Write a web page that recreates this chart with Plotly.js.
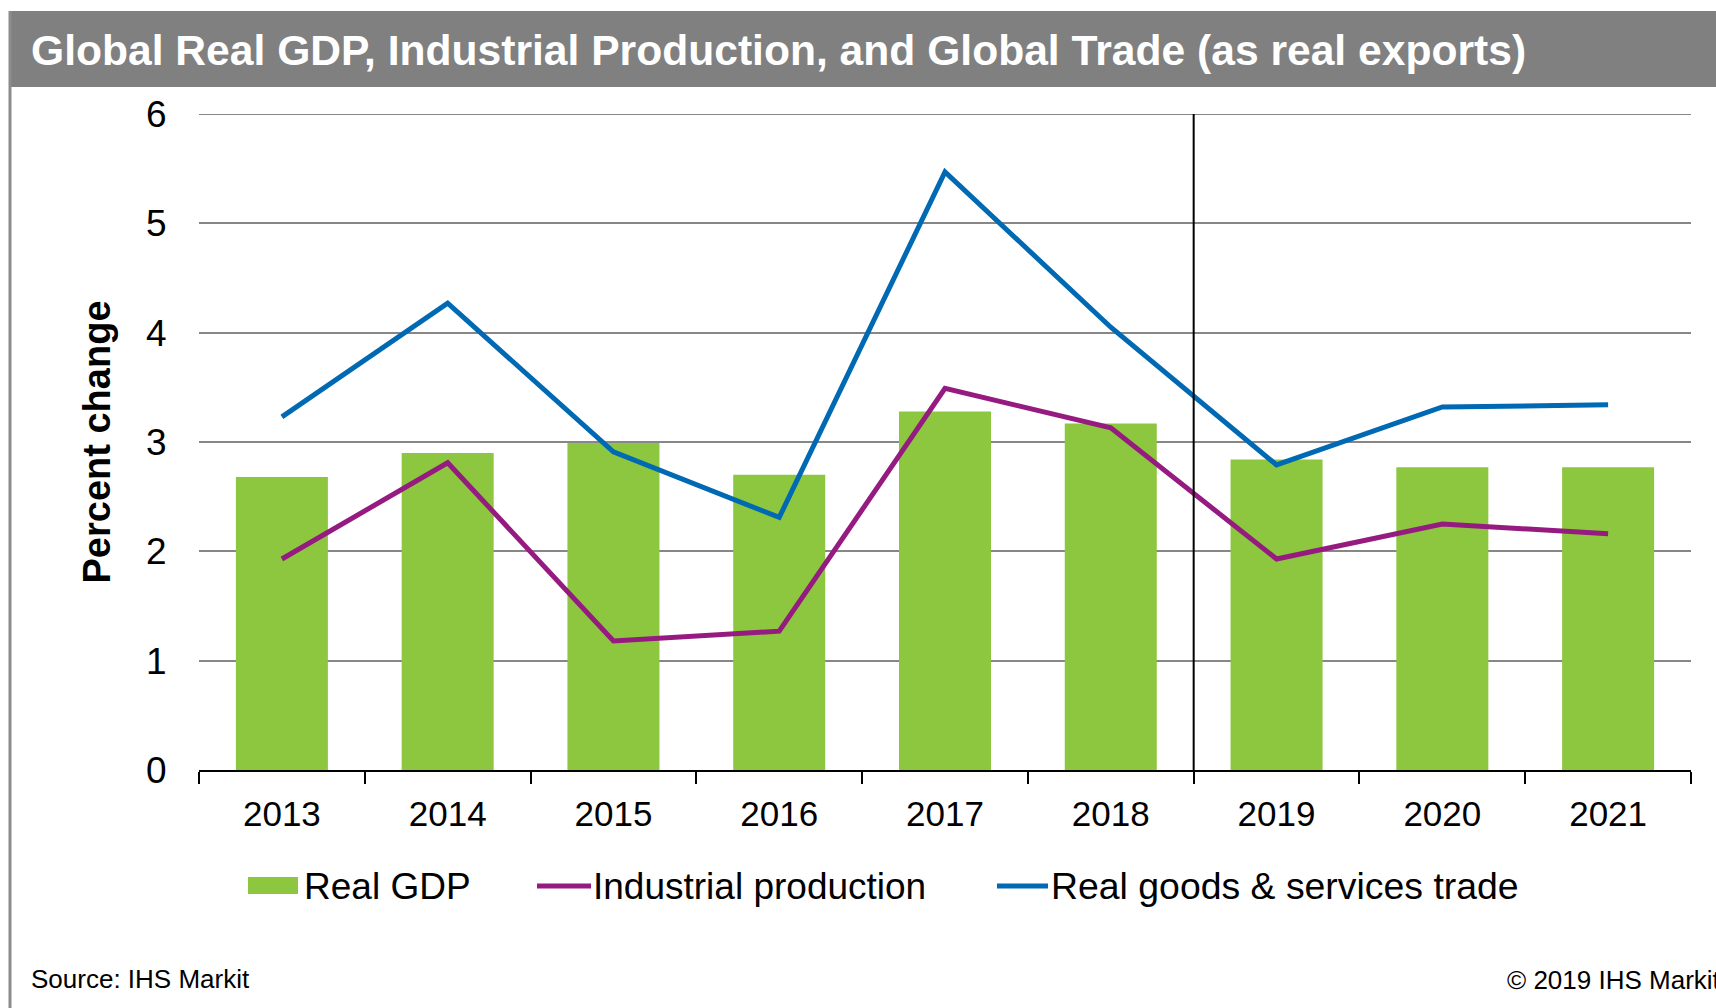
<!DOCTYPE html>
<html>
<head>
<meta charset="utf-8">
<script src="https://cdn.plot.ly/plotly-3.0.1.min.js"></script>
<style>
  html, body { margin: 0; padding: 0; background: #ffffff; }
  #chart { width: 1716px; height: 1008px; }
</style>
</head>
<body>
<div id="chart"></div>
<script>
// ---- Data ----
const years = ['2013', '2014', '2015', '2016', '2017', '2018', '2019', '2020', '2021'];
const realGDP = [2.68, 2.90, 2.99, 2.70, 3.28, 3.17, 2.84, 2.77, 2.77];
const industrialProduction = [1.93, 2.81, 1.18, 1.27, 3.49, 3.13, 1.93, 2.25, 2.16];
const realTrade = [3.23, 4.27, 2.91, 2.31, 5.47, 4.05, 2.79, 3.32, 3.34];
const seriesNames = ['Real GDP', 'Industrial production', 'Real goods & services trade'];
const yTicks = [0, 1, 2, 3, 4, 5, 6];
const forecastBoundary = 5.5; // between 2018 and 2019
const titleText = 'Global Real GDP, Industrial Production, and Global Trade (as real exports)';
const yTitleText = 'Percent change';
const sourceText = 'Source: IHS Markit';
const copyrightText = '© 2019 IHS Markit';

// ---- Layout geometry (pixels) ----
const W = 1716, H = 1008;
const L = 199, R = 25, T = 114, B = 238;
const plotW = W - L - R, plotH = H - T - B;
const px = x => (x - L) / plotW;          // pixel x -> paper x
const py = y => (H - B - y) / plotH;      // pixel y -> paper y

const green = '#8DC63F', purple = '#951B81', blue = '#0069B4';
const font = 'Liberation Sans, Arial, sans-serif';

const traces = [
  { type: 'bar', x: years, y: realGDP, name: seriesNames[0],
    marker: { color: green }, showlegend: false, hoverinfo: 'x+y' },
  { type: 'scatter', mode: 'lines', x: years, y: industrialProduction, name: seriesNames[1],
    line: { color: purple, width: 5 }, showlegend: false },
  { type: 'scatter', mode: 'lines', x: years, y: realTrade, name: seriesNames[2],
    line: { color: blue, width: 5 }, showlegend: false }
];

// custom legend (matching reference symbol sizes)
const legY = 886;
const shapes = [
  // title bar
  { type: 'rect', xref: 'paper', yref: 'paper', x0: px(10), x1: px(W), y0: py(11), y1: py(87),
    fillcolor: '#808080', line: { width: 0 }, layer: 'below' },
  // left frame line
  { type: 'line', xref: 'paper', yref: 'paper', x0: px(10), x1: px(10), y0: py(11), y1: py(H),
    line: { color: '#8C8C8C', width: 3 } },
  // top gridline (at 6)
  { type: 'line', xref: 'paper', yref: 'y', x0: 0, x1: 1, y0: 6, y1: 6,
    line: { color: '#878787', width: 2 }, layer: 'below' },
  // forecast divider
  { type: 'line', xref: 'x', yref: 'y', x0: forecastBoundary, x1: forecastBoundary, y0: 0, y1: 6,
    line: { color: '#000000', width: 2 } },
  // legend symbols
  { type: 'rect', xref: 'paper', yref: 'paper', x0: px(248), x1: px(298), y0: py(legY + 8), y1: py(legY - 9),
    fillcolor: green, line: { width: 0 } },
  { type: 'line', xref: 'paper', yref: 'paper', x0: px(537), x1: px(591), y0: py(legY), y1: py(legY),
    line: { color: purple, width: 5 } },
  { type: 'line', xref: 'paper', yref: 'paper', x0: px(997), x1: px(1048), y0: py(legY), y1: py(legY),
    line: { color: blue, width: 5 } }
];

const annotations = [
  { xref: 'paper', yref: 'paper', x: px(302), y: py(legY), xanchor: 'left', yanchor: 'middle',
    text: seriesNames[0], showarrow: false, font: { family: font, size: 37, color: '#000' } },
  { xref: 'paper', yref: 'paper', x: px(591), y: py(legY), xanchor: 'left', yanchor: 'middle',
    text: seriesNames[1], showarrow: false, font: { family: font, size: 37, color: '#000' } },
  { xref: 'paper', yref: 'paper', x: px(1049), y: py(legY), xanchor: 'left', yanchor: 'middle',
    text: seriesNames[2], showarrow: false, font: { family: font, size: 37.4, color: '#000' } },
  { xref: 'paper', yref: 'paper', x: px(29), y: py(979), xanchor: 'left', yanchor: 'middle',
    text: sourceText, showarrow: false, font: { family: font, size: 26, color: '#000' } },
  { xref: 'paper', yref: 'paper', x: px(1505), y: py(980), xanchor: 'left', yanchor: 'middle',
    text: copyrightText, showarrow: false, font: { family: font, size: 26, color: '#000' } }
];

const layout = {
  width: W, height: H,
  margin: { l: L, r: R, t: T, b: B, pad: 0 },
  paper_bgcolor: '#ffffff', plot_bgcolor: '#ffffff',
  font: { family: font, color: '#000000' },
  showlegend: false,
  bargap: 0.445,
  title: { text: '<b>' + titleText + '</b>', xref: 'container', yref: 'container',
    x: 31 / W, xanchor: 'left', y: 1 - 50 / H, yanchor: 'middle',
    font: { family: font, size: 42.6, color: '#ffffff' } },
  xaxis: {
    type: 'category', tickson: 'boundaries', ticks: 'outside', ticklen: 12, tickwidth: 2,
    tickcolor: '#000', showline: true, linecolor: '#000', linewidth: 2, showgrid: false,
    tickfont: { family: font, size: 35, color: '#000' }, ticklabelstandoff: 12,
    range: [-0.5, years.length - 0.5], fixedrange: true
  },
  yaxis: {
    range: [0, 6], tickvals: yTicks, ticktext: yTicks.map(String),
    showgrid: true, gridcolor: '#878787', gridwidth: 2, zeroline: false, showline: false,
    ticks: 'outside', ticklen: 24, tickcolor: 'rgba(0,0,0,0)',
    tickfont: { family: font, size: 37, color: '#000' },
    title: { text: '<b>' + yTitleText + '</b>', standoff: 23,
      font: { family: font, size: 38, color: '#000' } },
    automargin: false, fixedrange: true
  },
  shapes: shapes,
  annotations: annotations
};

Plotly.newPlot('chart', traces, layout, { displayModeBar: false, staticPlot: true });
</script>
</body>
</html>
